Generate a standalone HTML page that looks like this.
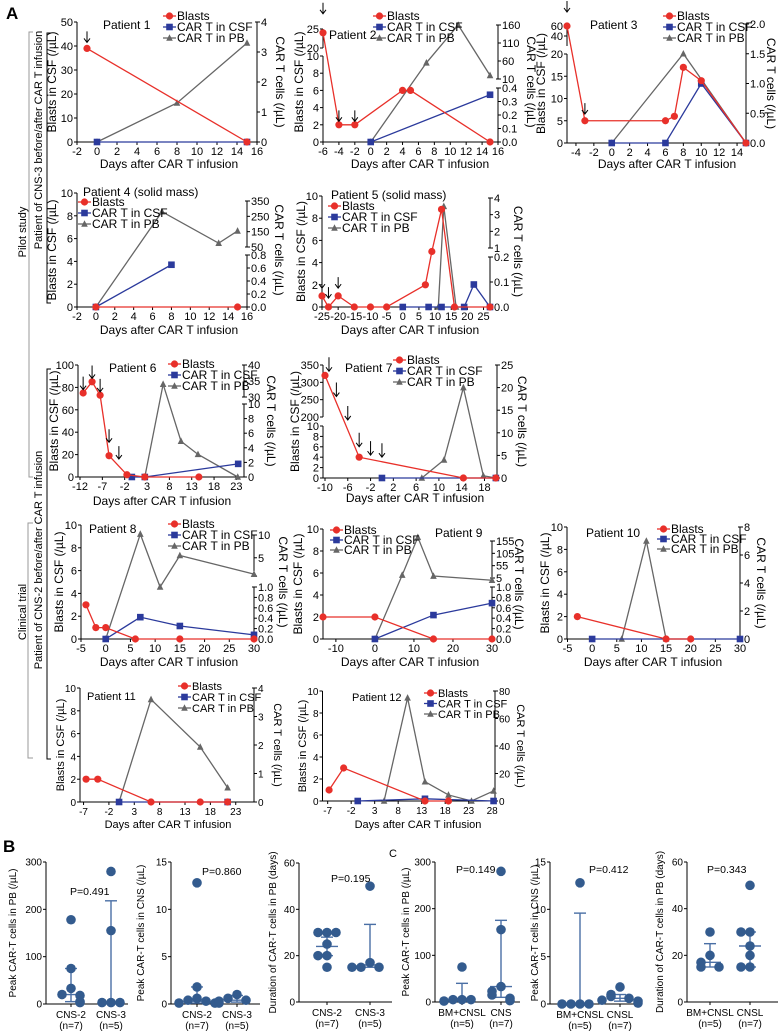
<!DOCTYPE html>
<html><head><meta charset="utf-8"><style>
html,body{margin:0;padding:0;background:#fff}
svg{display:block;font-family:"Liberation Sans",Arial,sans-serif}
</style></head><body>
<svg id="fig" width="779" height="1031" viewBox="0 0 779 1031" xmlns="http://www.w3.org/2000/svg">
<rect width="779" height="1031" fill="#fff"/>
<text x="6" y="19" font-size="17" font-weight="bold">A</text>
<text x="3" y="852" font-size="17" font-weight="bold">B</text>
<text x="389" y="857" font-size="11">C</text>
<g stroke-width="1" fill="none">
<path d="M33 32 H29 V477 H33" stroke="#999"/>
<path d="M51 33 H47 V303 H51" stroke="#000"/>
</g>
<text transform="translate(26,232) rotate(-90)" text-anchor="middle" font-size="11">Pilot study</text>
<text transform="translate(42,140) rotate(-90)" text-anchor="middle" font-size="11">Patient of CNS-3 before/after CAR T infusion</text>
<g stroke-width="1" fill="none">
<path d="M33 523 H28 V758 H33" stroke="#999"/>
<path d="M51 369 H47 V759 H51" stroke="#000"/>
</g>
<text transform="translate(26,612) rotate(-90)" text-anchor="middle" font-size="11">Clinical trial</text>
<text transform="translate(42,560) rotate(-90)" text-anchor="middle" font-size="11">Patient of CNS-2 before/after CAR T infusion</text>
</svg>
<script>
// ---------- Panel A data: [day, value] ----------
const p1Blasts=[[-1,39],[15,0]];
const p1Csf=[[0,0],[15,0]];
const p1Pb=[[0,0],[8,1.3],[15,3.3]];
const p1Arrows=[[-1,41.5]];
const p2Blasts=[[-6,24],[-4,2],[-2,2],[4,6],[5,6],[15,0]];
const p2Csf=[[0,0],[15,0.35]];
const p2Pb=[[0,0],[7,55],[11,160],[15,20]];
const p2Arrows=[[-6,29],[-4,2.4],[-2,2.4]];
const p3Blasts=[[-5,60],[-3,5],[6,5],[7,6],[8,17],[10,14],[15,0]];
const p3Csf=[[0,0],[6,0],[10,1.0],[15,0]];
const p3Pb=[[0,0],[8,1.5],[15,0]];
const p3Arrows=[[-5,88],[-3,6.5]];
const p4Blasts=[[0,0],[15,0]];
const p4Csf=[[0,0],[8,0.65]];
const p4Pb=[[0,0],[7,280],[13,75],[15,155]];
const p4Arrows=[];
const p5Blasts=[[-25,1],[-23,0],[-20,1],[-15,0],[-10,0],[-5,0],[7,2],[9,5],[12,8.8],[16,0],[27,0]];
const p5Csf=[[0,0],[8,0],[12,0],[19,0],[22,0.09],[27,0]];
const p5Pb=[[11,0],[12.7,3.5],[16.5,0]];
const p5Arrows=[[-25,1.7],[-23,0.8],[-20,1.7]];
const p6Blasts=[[-11.3,75],[-9.3,85],[-7.5,73],[-5.5,19],[-1.5,2],[2.5,0],[14.6,0]];
const p6Csf=[[-0.4,0],[2.5,0],[23.4,1.8]];
const p6Pb=[[2.5,0],[6.6,34],[10.6,4.9],[14.4,3.1],[23.3,0]];
const p6Arrows=[[-11.3,78],[-9.3,88],[-7.5,76],[-5.5,31],[-3.3,16]];
const p7Blasts=[[-10,320],[-4,4],[14.3,0],[20,0]];
const p7Csf=[[0,0],[20,0]];
const p7Pb=[[7,0],[10.9,4],[14.3,20],[17.8,0.5],[20,0]];
const p7Arrows=[[-9.3,332],[-8,259],[-6,137],[-4,6],[-2,4.4],[0,4.0]];
const p8Blasts=[[-4,3],[-2,1],[0,1],[6,0],[15,0],[30,0]];
const p8Csf=[[0,0],[7,0.42],[15,0.25],[30,0.08]];
const p8Pb=[[0,0],[7,10.2],[11,1],[15,5.5],[30,1.4]];
const p9Blasts=[[-13.3,2],[0,2],[15,0],[30,0]];
const p9Csf=[[0,0],[15,0.46],[30,0.69]];
const p9Pb=[[0,0],[7,17],[11,170],[15,13],[30,4]];
const p10Blasts=[[-3,2],[15,0],[20,0]];
const p10Csf=[[0,0],[30,0]];
const p10Pb=[[6,0],[11,7],[15,0]];
const p11Blasts=[[-6.5,2],[-4.2,2],[6.3,0],[16,0],[21.4,0]];
const p11Csf=[[0,0],[21.4,0]];
const p11Pb=[[0,0],[6.3,3.6],[16,1.93],[21.4,0.5]];
const p12Blasts=[[-6.7,1],[-3.6,3],[13.7,0],[18.7,0]];
const p12Csf=[[-0.6,0],[13.7,1.6],[28.3,0]];
const p12Pb=[[5,0],[10,75],[13.7,14],[18.7,4.4],[23.6,0],[28.3,7.3]];
// ---------- Panel B/C data ----------
const b1Cns2=[178,75,33,20,18,5,3], b1Cns3=[280,155,3,3,3];
const b1Stats=[[20,5,75],[3,3,218]];
const b2Cns2=[12.8,1.8,0.6,0.4,0.3,0.1,0.1], b2Cns3=[1.0,0.6,0.4,0.3,0.1];
const b2Stats=[[0.3,0.1,1.8],[0.4,0.2,0.9]];
const b3Cns2=[30,30,30,25,20,20,15], b3Cns3=[50,17,15,15,15];
const b3Stats=[[24,20,28],[16,15,33.5]];
const c1Bm=[75,5,5,5,2], c1Cns=[280,155,33,23,15,8,3];
const c1Stats=[[5,2,40],[33,10,175]];
const c2Bm=[12.8,0,0,0,0], c2Cns=[1.8,1.0,0.8,0.6,0.4,0.3,0.1];
const c2Stats=[[0,0,9.6],[0.6,0.3,1.0]];
const c3Bm=[30,20,17,15,15], c3Cns=[50,30,30,24,20,15,15];
const c3Stats=[[17,15,25],[24,15,30]];

const NS='http://www.w3.org/2000/svg';
const svg=document.getElementById('fig');
function mk(tag,attrs,parent){const e=document.createElementNS(NS,tag);for(const k in attrs)e.setAttribute(k,attrs[k]);(parent||svg).appendChild(e);return e;}
function segScale(segs){return v=>{
  for(let i=0;i<segs.length;i++){const s=segs[i];
    if(v>=s[0]&&v<=s[2])return s[1]+(v-s[0])/(s[2]-s[0])*(s[3]-s[1]);
    if(i+1<segs.length&&v>s[2]&&v<segs[i+1][0]){const n=segs[i+1];return s[3]+(v-s[2])/(n[0]-s[2])*(n[1]-s[3]);}
  }
  const s=v<segs[0][0]?segs[0]:segs[segs.length-1];return s[1]+(v-s[0])/(s[2]-s[0])*(s[3]-s[1]);};}
const RED='#e8302a',BLUE='#2b3a9c',GREY='#666';

function marker(g,type,x,y,color,sz){
  let m;
  if(type==='c')m=mk('circle',{cx:x,cy:y,r:sz,fill:color},g);
  else if(type==='s')m=mk('rect',{x:x-sz,y:y-sz,width:2*sz,height:2*sz,fill:color},g);
  else m=mk('path',{d:`M${x} ${y-sz-0.5}L${x+sz} ${y+sz-0.5}L${x-sz} ${y+sz-0.5}Z`,fill:color},g);
  return m;
}

function panel(c){
  const g=mk('g',{});
  
  
  const fs=c.fs||11;
  const xs=d=>c.L+(d-c.x0)/(c.x1-c.x0)*(c.R-c.L);
  const yl=segScale(c.left), yr=segScale(c.right);
  const ax=mk('g',{stroke:'#000','stroke-width':1,fill:'none'},g);
  
  
  mk('line',{x1:c.L,y1:c.B,x2:c.R,y2:c.B},ax);
  c.left.forEach(s=>{mk('line',{x1:c.L,y1:s[1],x2:c.L,y2:s[3]},ax);});
  c.right.forEach(s=>{mk('line',{x1:c.R,y1:s[1],x2:c.R,y2:s[3]},ax);mk('line',{x1:c.R-2,y1:s[3],x2:c.R+3,y2:s[3]},ax);mk('line',{x1:c.R-2,y1:s[1],x2:c.R+3,y2:s[1]},ax);});
  const tg=mk('g',{'font-size':fs,fill:'#000'},g);
  
  
  const lowMax=c.right[0][2];
  const fmt=t=>{if(c.rdec!=null)return t.toFixed(c.rdec);if(c.rdecF&&t<=lowMax&&lowMax<=1)return t.toFixed(1);return String(t);};
  c.xt.forEach(t=>{const x=xs(t);mk('line',{x1:x,y1:c.B,x2:x,y2:c.B+3,stroke:'#000'},ax);const e=mk('text',{x:x,y:c.B+13,'text-anchor':'middle'},tg);e.textContent=t;});
  c.lt.forEach(t=>{const y=yl(t);mk('line',{x1:c.L-3,y1:y,x2:c.L,y2:y,stroke:'#000'},ax);const e=mk('text',{x:c.L-4,y:y+4,'text-anchor':'end'},tg);e.textContent=t;});
  c.rt.forEach(t=>{const y=yr(t);mk('line',{x1:c.R,y1:y,x2:c.R+3,y2:y,stroke:'#000'},ax);const e=mk('text',{x:c.R+4,y:y+4},tg);e.textContent=fmt(t);});
  const ser=[[c.pb,yr,GREY,'t','series-car-t-pb'],[c.csf,yr,BLUE,'s','series-car-t-csf'],[c.blasts,yl,RED,'c','series-blasts']];
  ser.forEach(([data,ys,col,mt,nm])=>{
    const sg=mk('g',{},g);
    
    
    mk('polyline',{points:data.map(p=>xs(p[0])+','+ys(p[1])).join(' '),fill:'none',stroke:col,'stroke-width':1.3},sg);
    data.forEach(p=>{const m=marker(sg,mt,xs(p[0]),ys(p[1]),col,mt==='c'?3.6:3.3);
      
      });
  });
  (c.arrows||[]).forEach(a=>{const x=xs(a[0]),y=yl(a[1]),len=c.alen||11;
    const ar=mk('path',{d:`M${x} ${y-len}V${y}M${x-3} ${y-4}L${x} ${y}L${x+3} ${y-4}`,stroke:'#000','stroke-width':1,fill:'none'},g);
    
    });
  const t=mk('text',{x:c.title[0],y:c.title[1]+4,'font-size':fs+1},g);t.textContent=c.tname;
  
  
  const xl=mk('text',{x:c.xl[0],y:c.xl[1]+4,'font-size':fs+1,'text-anchor':'middle'},g);xl.textContent='Days after CAR T infusion';
  
  
  const my=(c.T+c.B)/2;
  const yL=mk('text',{transform:`translate(${c.yll},${my}) rotate(-90)`,'font-size':fs+1,'text-anchor':'middle'},g);yL.textContent='Blasts in CSF (/µL)';
  
  
  const yR=mk('text',{transform:`translate(${c.yrl},${my}) rotate(90)`,'font-size':fs+1,'text-anchor':'middle'},g);yR.textContent='CAR T cells (/µL)';
  
  
  const lg=mk('g',{'font-size':fs+1},g);
  
  
  [['Blasts',RED,'c'],['CAR T in CSF',BLUE,'s'],['CAR T in PB',GREY,'t']].forEach((e,i)=>{
    const ly=c.leg[1]+i*c.leg[2],lx=c.leg[0];
    const le=mk('g',{},lg);
    
    
    mk('line',{x1:lx,y1:ly,x2:lx+13,y2:ly,stroke:e[1],'stroke-width':1.3},le);
    marker(le,e[2],lx+6.5,ly,e[1],e[2]==='c'?3.6:3.3);
    const tx=mk('text',{x:lx+14,y:ly+4},le);tx.textContent=e[0];
  });
}

const P=[
 {name:'patient-1-chart',tname:'Patient 1',L:77,R:257,T:22,B:142,x0:-2,x1:16,xt:[-2,0,2,4,6,8,10,12,14,16],left:[[0,142,50,22]],lt:[0,10,20,30,40,50],right:[[0,142,4,22]],rt:[0,1,2,3,4],blasts:p1Blasts,csf:p1Csf,pb:p1Pb,arrows:p1Arrows,title:[103,25],leg:[163,16,11],xl:[169,164],yll:56,yrl:276},
 {name:'patient-2-chart',tname:'Patient 2',L:323,R:498,T:22,B:142,x0:-6,x1:16,xt:[-6,-4,-2,0,2,4,6,8,10,12,14,16],left:[[0,142,10,56],[20,48,25,29]],lt:[0,2,4,6,8,10,20,25],right:[[0,142,0.4,88],[10,79,160,25]],rt:[0,0.1,0.2,0.3,0.4,10,60,110,160],rdecF:true,blasts:p2Blasts,csf:p2Csf,pb:p2Pb,arrows:p2Arrows,title:[329,35],leg:[373,16,11],xl:[420,164],yll:303,yrl:527},
 {name:'patient-3-chart',tname:'Patient 3',L:567,R:746,T:24,B:143,x0:-5,x1:15,xt:[-4,-2,0,2,4,6,8,10,12,14],left:[[0,143,20,54],[20,46,60,26]],lt:[0,5,10,15,20,40,60],right:[[0,143,2,24]],rt:[0,0.5,1,1.5,2],rdec:1,blasts:p3Blasts,csf:p3Csf,pb:p3Pb,arrows:p3Arrows,title:[590,25],leg:[663,16,11],xl:[667,164],yll:545,yrl:767},
 {name:'patient-4-chart',tname:'Patient 4 (solid mass)',L:77,R:247,T:193,B:307,x0:-2,x1:16,xt:[-2,0,2,4,6,8,10,12,14,16],left:[[0,307,10,193]],lt:[0,2,4,6,8,10],right:[[0,307,0.8,255],[50,247,350,201]],rt:[0,0.2,0.4,0.6,0.8,50,150,250,350],rdecF:true,blasts:p4Blasts,csf:p4Csf,pb:p4Pb,arrows:p4Arrows,title:[83,192],leg:[78,202,11],xl:[169,330],yll:56,yrl:275},
 {name:'patient-5-chart',tname:'Patient 5 (solid mass)',L:322,R:490,T:196,B:307,x0:-25,x1:27,xt:[-25,-20,-15,-10,-5,0,5,10,15,20,25],left:[[0,307,10,196]],lt:[0,2,4,6,8,10],right:[[0,307,0.2,257],[1,248,4,198]],rt:[0,0.1,0.2,1,2,3,4],rdecF:true,blasts:p5Blasts,csf:p5Csf,pb:p5Pb,arrows:p5Arrows,title:[331,195],leg:[328,206,11],xl:[410,330],yll:305,yrl:514},
 {name:'patient-6-chart',tname:'Patient 6',L:78,R:244,T:365,B:477,x0:-12.45,x1:24.7,xt:[-12,-7,-2,3,8,13,18,23],left:[[0,477,100,365]],lt:[0,20,40,60,80,100],right:[[0,477,10,404],[30,397,40,365]],rt:[0,2,4,6,8,10,30,35,40],blasts:p6Blasts,csf:p6Csf,pb:p6Pb,arrows:p6Arrows,alen:13,title:[109,368],leg:[168,364,11],xl:[162,501],yll:58,yrl:267},
 {name:'patient-7-chart',tname:'Patient 7',L:323,R:497,T:365,B:478,x0:-10.35,x1:20.2,xt:[-10,-6,-2,2,6,10,14,18],left:[[0,478,10,426],[200,417,350,365]],lt:[0,2,4,6,8,10,200,250,300,350],right:[[0,478,25,365]],rt:[0,5,10,15,20,25],blasts:p7Blasts,csf:p7Csf,pb:p7Pb,arrows:p7Arrows,alen:14,title:[345,368],leg:[393,360,11],xl:[415,498],yll:299,yrl:518},
 {name:'patient-8-chart',tname:'Patient 8',L:81,R:254,T:525,B:639,x0:-5,x1:30,xt:[-5,0,5,10,15,20,25,30],left:[[0,639,10,525]],lt:[0,2,4,6,8,10],right:[[0,639,1,587],[1,576,10,535]],rt:[0,0.2,0.4,0.6,0.8,1.0,5,10],rdecF:true,blasts:p8Blasts,csf:p8Csf,pb:p8Pb,title:[89,529],leg:[168,524,11],xl:[169,662],yll:63,yrl:279},
 {name:'patient-9-chart',tname:'Patient 9',L:323,R:492,T:529,B:639,x0:-13.3,x1:30,xt:[-10,0,10,20,30],left:[[0,639,10,529]],lt:[0,2,4,6,8,10],right:[[0,639,1,587],[5,578,155,541]],rt:[0,0.2,0.4,0.6,0.8,1.0,5,55,105,155],rdecF:true,blasts:p9Blasts,csf:p9Csf,pb:p9Pb,title:[435,533],leg:[330,530,10],xl:[410,662],yll:302,yrl:515},
 {name:'patient-10-chart',tname:'Patient 10',L:567,R:740,T:527,B:639,x0:-5.1,x1:30,xt:[-5,0,5,10,15,20,25,30],left:[[0,639,10,527]],lt:[0,2,4,6,8,10],right:[[0,639,8,527]],rt:[0,2,4,6,8],blasts:p10Blasts,csf:p10Csf,pb:p10Pb,title:[586,533],leg:[657,529,10],xl:[653,662],yll:549,yrl:757},
 {name:'patient-11-chart',tname:'Patient 11',fs:10,L:80,R:254,T:688,B:802,x0:-7.7,x1:26.6,xt:[-7,-2,3,8,13,18,23],left:[[0,802,10,688]],lt:[0,2,4,6,8,10],right:[[0,802,4,688]],rt:[0,1,2,3,4],blasts:p11Blasts,csf:p11Csf,pb:p11Pb,title:[87,696],leg:[178,686,11],xl:[168,824],yll:64,yrl:274},
 {name:'patient-12-chart',tname:'Patient 12',fs:10,L:322.5,R:495,T:691,B:801,x0:-8.1,x1:28.6,xt:[-7,-2,3,8,13,18,23,28],left:[[0,801,10,691]],lt:[0,2,4,6,8,10],right:[[0,801,80,691]],rt:[0,20,40,60,80],blasts:p12Blasts,csf:p12Csf,pb:p12Pb,title:[352,697],leg:[424,693,10.5],xl:[418,824],yll:306,yrl:517}
];
P.forEach(panel);

function dotplot(c){
  const g=mk('g',{});
  
  
  const ys=v=>c.y0+(v/c.max)*(c.y1-c.y0);
  const ax=mk('g',{stroke:'#000','stroke-width':1},g);
  mk('line',{x1:c.ax,y1:c.y0,x2:c.ax,y2:c.y1},ax);
  mk('line',{x1:c.ax,y1:c.y0,x2:c.xe,y2:c.y0},ax);
  c.ticks.forEach(t=>{const y=ys(t);mk('line',{x1:c.ax-3,y1:y,x2:c.ax,y2:y},ax);
    const e=mk('text',{x:c.ax-4,y:y+3.5,'text-anchor':'end','font-size':10,stroke:'none'},g);e.textContent=t;});
  c.groups.forEach((vals,gi)=>{
    const gx=c.gx[gi];
    const st=c.stats[gi];
    mk('line',{x1:gx,y1:c.y0,x2:gx,y2:c.y0+3,stroke:'#000'},ax);
    const wg=mk('g',{stroke:'#4a6fa5','stroke-width':1.4},g);
    
    
    mk('line',{x1:gx,y1:ys(st[1]),x2:gx,y2:ys(st[2])},wg);
    mk('line',{x1:gx-11,y1:ys(st[0]),x2:gx+11,y2:ys(st[0])},wg);
    mk('line',{x1:gx-6,y1:ys(st[1]),x2:gx+6,y2:ys(st[1])},wg);
    mk('line',{x1:gx-6,y1:ys(st[2]),x2:gx+6,y2:ys(st[2])},wg);
    const placed=[];
    vals.forEach(v=>{const y=ys(v);const near=placed.filter(p=>Math.abs(p-y)<8).length;placed.push(y);
      const off=[0,-1,1,-2,2,-3,3][near]*9;
      const d=mk('circle',{cx:gx+off,cy:y,r:4.8,fill:'#335b8e'},g);
      
      });
    const l1=mk('text',{x:gx,y:c.y0+14,'text-anchor':'middle','font-size':10},g);l1.textContent=c.labels[gi];
    const l2=mk('text',{x:gx,y:c.y0+25,'text-anchor':'middle','font-size':10},g);l2.textContent=c.ns[gi];
  });
  const p=mk('text',{x:c.pxy[0],y:c.pxy[1]+4,'font-size':10.5},g);p.textContent=c.p;
  
  
  const yl=mk('text',{transform:`translate(${c.ylx},${(c.y0+c.y1)/2}) rotate(-90)`,'text-anchor':'middle','font-size':10},g);yl.textContent=c.ylab;
  
  
}
const D=[
 {name:'b-peak-pb-plot',ax:46,xe:128,y0:1004,y1:862,max:300,ticks:[0,100,200,300],gx:[71,111],groups:[b1Cns2,b1Cns3],stats:b1Stats,labels:['CNS-2','CNS-3'],ns:['(n=7)','(n=5)'],p:'P=0.491',pxy:[70,891],ylab:'Peak CAR-T cells in PB (/µL)',ylx:16},
 {name:'b-peak-cns-plot',ax:171,xe:260,y0:1004,y1:862,max:15,ticks:[0,5,10,15],gx:[197,237],groups:[b2Cns2,b2Cns3],stats:b2Stats,labels:['CNS-2','CNS-3'],ns:['(n=7)','(n=5)'],p:'P=0.860',pxy:[202,871],ylab:'Peak CAR-T cells in CNS (/µL)',ylx:144},
 {name:'b-duration-pb-plot',ax:299,xe:392,y0:1002,y1:863,max:60,ticks:[0,20,40,60],gx:[327,370],groups:[b3Cns2,b3Cns3],stats:b3Stats,labels:['CNS-2','CNS-3'],ns:['(n=7)','(n=5)'],p:'P=0.195',pxy:[331,878],ylab:'Duration of CAR-T cells in PB (days)',ylx:276},
 {name:'c-peak-pb-plot',ax:435,xe:520,y0:1002,y1:862,max:300,ticks:[0,100,200,300],gx:[462,501],groups:[c1Bm,c1Cns],stats:c1Stats,labels:['BM+CNSL','CNS'],ns:['(n=5)','(n=7)'],p:'P=0.149',pxy:[456,869],ylab:'Peak CAR-T cells in PB (/µL)',ylx:409},
 {name:'c-peak-cns-plot',ax:550,xe:642,y0:1004,y1:862,max:15,ticks:[0,5,10,15],gx:[580,620],groups:[c2Bm,c2Cns],stats:c2Stats,labels:['BM+CNSL','CNSL'],ns:['(n=5)','(n=7)'],p:'P=0.412',pxy:[589,869],ylab:'Peak CAR-T cells in CNS (/µL)',ylx:538},
 {name:'c-duration-pb-plot',ax:687,xe:778,y0:1002,y1:862,max:60,ticks:[0,20,40,60],gx:[710,750],groups:[c3Bm,c3Cns],stats:c3Stats,labels:['BM+CNSL','CNSL'],ns:['(n=5)','(n=7)'],p:'P=0.343',pxy:[707,869],ylab:'Duration of CAR-T cells in PB (days)',ylx:663}
];
D.forEach(dotplot);
</script>
</body></html>
